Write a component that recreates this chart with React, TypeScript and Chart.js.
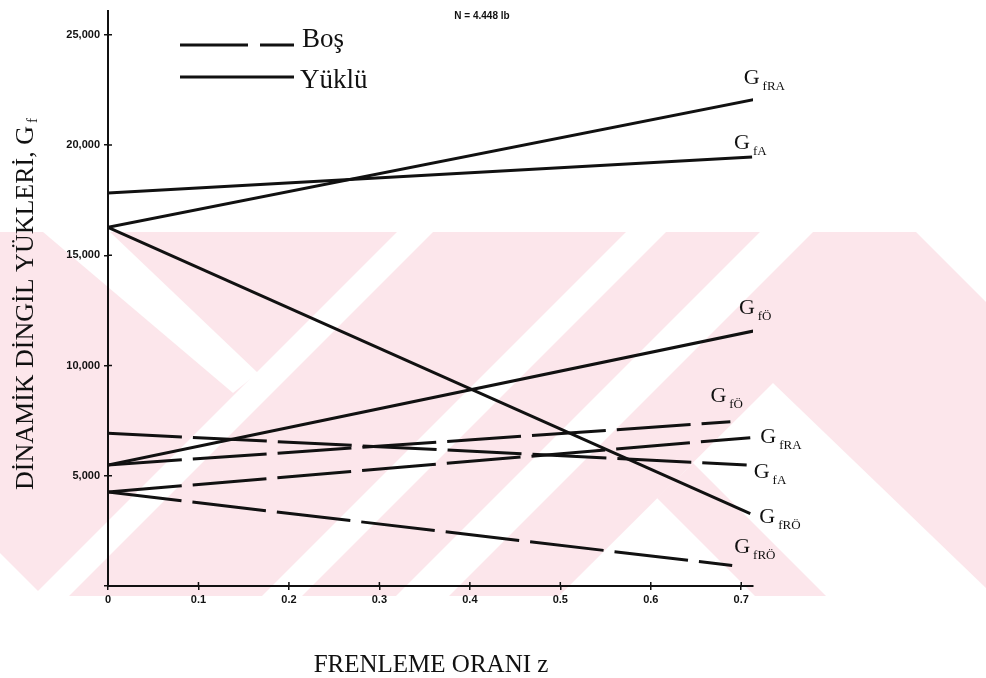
import React, { useEffect, useRef } from 'react';
import { Chart, registerables } from 'chart.js';

Chart.register(...registerables);

// ---- Data ----
// series order: G_fA, G_fRA, G_fÖ, G_fRÖ
const subscripts = ['fA', 'fRA', 'fÖ', 'fRÖ'];
const startZ = 0;
// Yüklü (loaded, solid)
const yukluStart = [17830, 16270, 5490, 16270];
const yukluEnd = [19460, 22080, 11570, 3280];
const yukluEndZ = [0.712, 0.716, 0.714, 0.71];
// Boş (empty, dashed)
const bosStart = [6930, 4260, 5490, 4260];
const bosEnd = [5490, 6730, 7450, 930];
const bosEndZ = [0.706, 0.71, 0.688, 0.69];

const xTickValues = [0, 0.1, 0.2, 0.3, 0.4, 0.5, 0.6, 0.7];
const yTickValues = [0, 5000, 10000, 15000, 20000, 25000];
const xMax = 0.713;
const yMax = 26100;

const legendLabels = ['Boş', 'Yüklü'];
const noteText = 'N = 4.448 lb';
const xTitle = 'FRENLEME ORANI z';
const yTitle = 'DİNAMİK DİNGİL YÜKLERİ, G';
const yTitleSub = 'f';

// label offsets (pixels) from each line's end point: [dx, dy]
const yukluLabelOffsets = [[-18, -8], [-12, -15], [-15, -17], [9, 9]];
const bosLabelOffsets = [[7, 13], [10, 5], [-20, -20], [2, -12]];

// background watermark (decoration, canvas pixels)
const WM_COLOR = '#fce6eb';
const WM_BASE = [[0, 232], [916, 232], [986, 302], [986, 596], [43, 596], [0, 553]];
const WM_WHITE = [
  [[43, 232], [110, 232], [258, 373], [233, 393]],
  [[397, 232], [433, 232], [69, 596], [33, 596]],
  [[626, 232], [666, 232], [302, 596], [262, 596]],
  [[760, 232], [813, 232], [449, 596], [396, 596]],
  [[773, 383], [986, 588], [986, 596], [559, 596]],
];
const WM_PINK_EXTRA = [
  [[657, 498], [693, 463], [826, 596], [755, 596]],
];

const SERIF = "'Liberation Serif', 'Times New Roman', serif";
const NARROW = "'Liberation Sans Narrow', 'Liberation Sans', Arial, sans-serif";

export default function App() {
  const ref = useRef<HTMLCanvasElement | null>(null);

  useEffect(() => {
    if (!ref.current) return;
    const datasets: any[] = [];
    for (let i = 0; i < subscripts.length; i++) {
      datasets.push({
        label: 'Yüklü G' + subscripts[i],
        data: [{ x: startZ, y: yukluStart[i] }, { x: yukluEndZ[i], y: yukluEnd[i] }],
        borderColor: '#111',
        borderWidth: 3,
        pointRadius: 0,
        fill: false,
        tension: 0,
        _off: yukluLabelOffsets[i],
        _sub: subscripts[i],
      });
    }
    for (let i = 0; i < subscripts.length; i++) {
      datasets.push({
        label: 'Boş G' + subscripts[i],
        data: [{ x: startZ, y: bosStart[i] }, { x: bosEndZ[i], y: bosEnd[i] }],
        borderColor: '#111',
        borderWidth: 3,
        borderDash: [74, 11],
        pointRadius: 0,
        fill: false,
        tension: 0,
        _off: bosLabelOffsets[i],
        _sub: subscripts[i],
      });
    }

    const decor = {
      id: 'decor',
      beforeDraw(chart: any) {
        const ctx = chart.ctx;
        ctx.save();
        ctx.fillStyle = '#ffffff';
        ctx.fillRect(0, 0, chart.width, chart.height);
        const poly = (pts: number[][], color: string) => {
          ctx.beginPath();
          pts.forEach((p, k) => (k ? ctx.lineTo(p[0], p[1]) : ctx.moveTo(p[0], p[1])));
          ctx.closePath();
          ctx.fillStyle = color;
          ctx.fill();
        };
        poly(WM_BASE, WM_COLOR);
        WM_WHITE.forEach((p) => poly(p, '#ffffff'));
        WM_PINK_EXTRA.forEach((p) => poly(p, WM_COLOR));
        ctx.restore();
      },
      afterDraw(chart: any) {
        const ctx = chart.ctx;
        ctx.save();
        ctx.fillStyle = '#111';
        ctx.strokeStyle = '#111';
        // inner halves of the cross-shaped tick marks
        const xs = chart.scales.x;
        const ys = chart.scales.y;
        ctx.lineWidth = 1.5;
        ctx.beginPath();
        xTickValues.forEach((v) => {
          const px = xs.getPixelForValue(v);
          ctx.moveTo(px, ys.bottom);
          ctx.lineTo(px, ys.bottom - 4);
        });
        yTickValues.forEach((v) => {
          if (v === 0) return;
          const py = ys.getPixelForValue(v);
          ctx.moveTo(xs.left, py);
          ctx.lineTo(xs.left + 4, py);
        });
        ctx.stroke();
        // end-of-line labels
        chart.data.datasets.forEach((ds: any, i: number) => {
          const meta = chart.getDatasetMeta(i);
          const end = meta.data[meta.data.length - 1];
          const gx = end.x + ds._off[0];
          const gy = end.y + ds._off[1];
          ctx.font = `22px ${SERIF}`;
          ctx.textAlign = 'left';
          ctx.textBaseline = 'alphabetic';
          ctx.fillText('G', gx, gy);
          const w = ctx.measureText('G').width;
          ctx.font = `13px ${SERIF}`;
          ctx.fillText(ds._sub, gx + w + 3, gy + 6);
        });
        // legend
        ctx.lineWidth = 3;
        ctx.beginPath();
        ctx.moveTo(180, 45); ctx.lineTo(248, 45);
        ctx.moveTo(260, 45); ctx.lineTo(294, 45);
        ctx.moveTo(180, 77); ctx.lineTo(294, 77);
        ctx.stroke();
        ctx.font = `27px ${SERIF}`;
        ctx.fillText(legendLabels[0], 302, 47);
        ctx.fillText(legendLabels[1], 300, 88);
        // note
        ctx.font = `bold 10px ${NARROW}`;
        ctx.textAlign = 'center';
        ctx.textBaseline = 'middle';
        ctx.fillText(noteText, 482, 16);
        // x title
        ctx.font = `25px ${SERIF}`;
        ctx.textBaseline = 'alphabetic';
        ctx.fillText(xTitle, 431, 672);
        // y title (rotated)
        ctx.font = `26px ${SERIF}`;
        const mw = ctx.measureText(yTitle).width;
        ctx.font = `15px ${SERIF}`;
        const sw = ctx.measureText(yTitleSub).width;
        const total = mw + 3 + sw;
        ctx.translate(33, 304);
        ctx.rotate(-Math.PI / 2);
        ctx.textAlign = 'left';
        ctx.font = `26px ${SERIF}`;
        ctx.fillText(yTitle, -total / 2, 0);
        ctx.font = `15px ${SERIF}`;
        ctx.fillText(yTitleSub, -total / 2 + mw + 3, 4);
        ctx.restore();
      },
    };

    const chart = new Chart(ref.current, {
      type: 'line',
      data: { datasets },
      options: {
        animation: false,
        responsive: false,
        devicePixelRatio: 1,
        layout: { padding: { left: 0, right: 986 - 753, top: 10, bottom: 0 } },
        plugins: { legend: { display: false }, tooltip: { enabled: false } },
        scales: {
          x: {
            type: 'linear',
            min: 0,
            max: xMax,
            afterFit: (s: any) => { s.height = 92; },
            afterBuildTicks: (s: any) => { s.ticks = xTickValues.map((v) => ({ value: v })); },
            border: { display: true, color: '#111', width: 2 },
            grid: { drawOnChartArea: false, drawTicks: true, tickLength: 4, color: '#111', lineWidth: 1.5 },
            ticks: {
              color: '#111',
              padding: 3,
              font: { family: NARROW, size: 11, weight: 'bold' },
              callback: (v: any) => (Math.abs(v) < 1e-9 ? '0' : Number(v).toFixed(1)),
            },
          },
          y: {
            type: 'linear',
            min: 0,
            max: yMax,
            afterFit: (s: any) => { s.width = 108; },
            afterBuildTicks: (s: any) => { s.ticks = yTickValues.map((v) => ({ value: v })); },
            border: { display: true, color: '#111', width: 2 },
            grid: { drawOnChartArea: false, drawTicks: true, tickLength: 4, color: '#111', lineWidth: 1.5 },
            ticks: {
              color: '#111',
              padding: 4,
              font: { family: NARROW, size: 11, weight: 'bold' },
              callback: (v: any) => (v === 0 ? '' : Number(v).toLocaleString('en-US')),
            },
          },
        },
      },
      plugins: [decor],
    } as any);
    return () => chart.destroy();
  }, []);

  return (
    <div style={{ position: 'absolute', left: 0, top: 0, width: 986, height: 678 }}>
      <canvas ref={ref} width={986} height={678} style={{ display: 'block' }} />
    </div>
  );
}
